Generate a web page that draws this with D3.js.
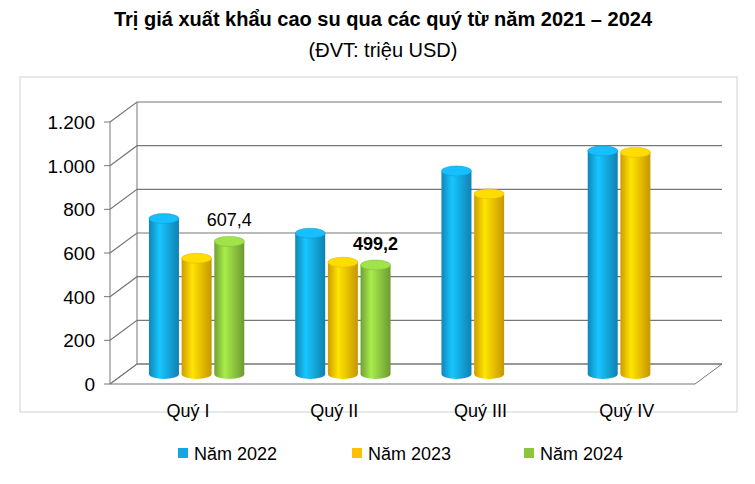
<!DOCTYPE html>
<html><head><meta charset="utf-8">
<script src="https://cdn.jsdelivr.net/npm/d3@7"></script>
<style>body{margin:0;background:#fff}text{font-family:"Liberation Sans",Arial,sans-serif}</style>
</head><body>
<svg id="c" width="755" height="484"></svg>
<script>
// data
const quarters = ["Quý I", "Quý II", "Quý III", "Quý IV"];
const seriesNames = ["Năm 2022", "Năm 2023", "Năm 2024"];
const colors = ["#14a6e3", "#ffc000", "#8cc63f"];
const values2022 = [712, 645, 930, 1022];
const values2023 = [530, 512, 825, 1015];
const values2024 = [607.4, 499.2, null, null];
const ticks = [0, 200, 400, 600, 800, 1000, 1200];
const tickLabels = ["0", "200", "400", "600", "800", "1.000", "1.200"];

const series = [values2022, values2023, values2024];
const svg = d3.select("#c");
const dx = 27, dy = -20;
const y = d3.scaleLinear().domain([0, 1200]).range([384, 122]);
const x = d3.scaleBand().domain(quarters).range([110, 695]);
const xs = d3.scaleBand().domain(d3.range(3)).range([0, 98]);

svg.append("text").attr("x", 383).attr("y", 26).attr("text-anchor", "middle")
  .attr("font-size", 20).attr("font-weight", "bold").text("Trị giá xuất khẩu cao su qua các quý từ năm 2021 – 2024");
svg.append("text").attr("x", 383).attr("y", 57).attr("text-anchor", "middle")
  .attr("font-size", 20).text("(ĐVT: triệu USD)");

svg.append("rect").attr("x", 20).attr("y", 77).attr("width", 717).attr("height", 335)
  .attr("fill", "none").attr("stroke", "#d0d0d0");

// walls & floor
const g = svg.append("g");
g.append("path").attr("d", `M${110},${y(0)} L${110+dx},${y(0)+dy} L${722},${y(0)+dy} L${695},${y(0)} Z`)
  .attr("fill", "#fff").attr("stroke", "#777");
ticks.forEach((t, i) => {
  g.append("polyline")
    .attr("points", `110,${y(t)} ${110+dx},${y(t)+dy} 722,${y(t)+dy}`)
    .attr("fill", "none").attr("stroke", "#777").attr("stroke-width", 1.2);
  g.append("line").attr("x1", 104).attr("x2", 110).attr("y1", y(t)).attr("y2", y(t)).attr("stroke", "#777");
  g.append("text").attr("x", 95).attr("y", y(t) + 7).attr("text-anchor", "end")
    .attr("font-size", 19).text(tickLabels[i]);
});
g.append("line").attr("x1", 110).attr("x2", 110).attr("y1", y(0)).attr("y2", y(1200)).attr("stroke", "#777");
g.append("line").attr("x1", 137).attr("x2", 137).attr("y1", y(0)+dy).attr("y2", y(1200)+dy).attr("stroke", "#777");

// gradients
const defs = svg.append("defs");
colors.forEach((c, i) => {
  const gr = defs.append("linearGradient").attr("id", "g" + i);
  gr.append("stop").attr("offset", "0%").attr("stop-color", d3.color(c).darker(0.6));
  gr.append("stop").attr("offset", "35%").attr("stop-color", d3.color(c).brighter(0.5));
  gr.append("stop").attr("offset", "100%").attr("stop-color", d3.color(c).darker(0.7));
});

const rx = 15, ry = 5;
quarters.forEach((q, qi) => {
  series.forEach((s, si) => {
    const v = s[qi];
    if (v == null) return;
    const cx = x(q) + (x.bandwidth() - 98) / 2 + xs(si) + xs.bandwidth() / 2 + dx / 2;
    const yb = y(0) + dy / 2, yt = y(v) + dy / 2;
    g.append("path")
      .attr("d", `M${cx-rx},${yt} L${cx-rx},${yb} A${rx},${ry} 0 0 0 ${cx+rx},${yb} L${cx+rx},${yt} Z`)
      .attr("fill", `url(#g${si})`);
    g.append("ellipse").attr("cx", cx).attr("cy", yt).attr("rx", rx).attr("ry", ry)
      .attr("fill", d3.color(colors[si]).brighter(0.4)).attr("stroke", d3.color(colors[si]).darker(0.3)).attr("stroke-width", 0.5);
    if (si === 2) {
      g.append("text").attr("x", cx).attr("y", yt - 15).attr("text-anchor", "middle")
        .attr("font-size", 18).attr("font-weight", qi === 1 ? "bold" : "normal")
        .text(d3.format(".1f")(v).replace(".", ","));
    }
  });
  svg.append("text").attr("x", x(q) + x.bandwidth() / 2 + 5).attr("y", 417)
    .attr("text-anchor", "middle").attr("font-size", 18).text(q);
});

// legend
const lx = [178, 352, 524];
seriesNames.forEach((n, i) => {
  svg.append("rect").attr("x", lx[i]).attr("y", 448).attr("width", 10).attr("height", 10).attr("fill", colors[i]);
  svg.append("text").attr("x", lx[i] + 16).attr("y", 460).attr("font-size", 18).text(n);
});
</script>
</body></html>
